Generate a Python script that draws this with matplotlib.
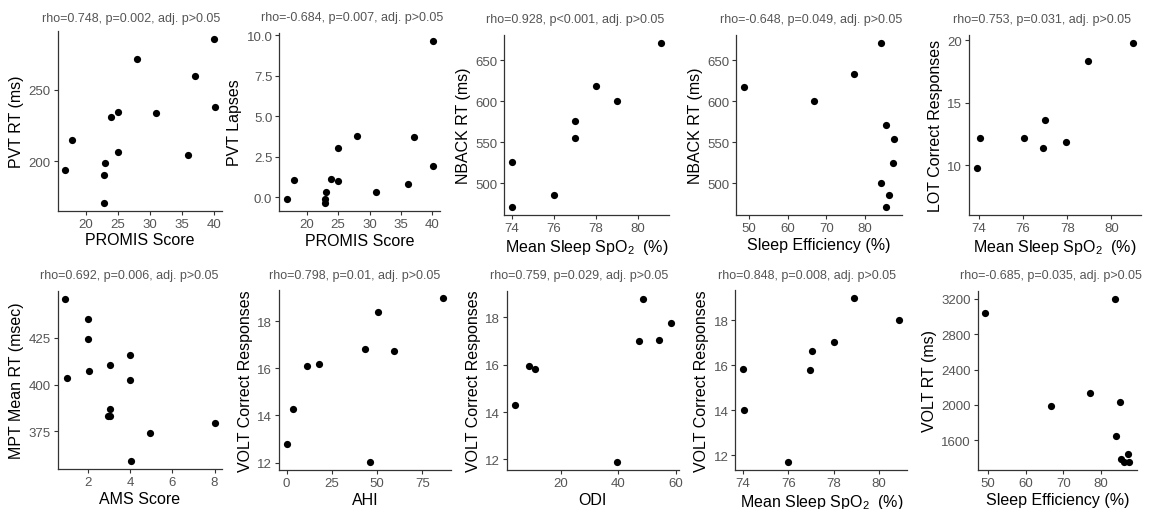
import matplotlib
matplotlib.use('Agg')
import matplotlib.pyplot as plt

plt.rcParams['font.family'] = ['Liberation Sans', 'DejaVu Sans']
plt.rcParams['mathtext.fontset'] = 'custom'
plt.rcParams['mathtext.rm'] = 'Liberation Sans'
plt.rcParams['mathtext.it'] = 'Liberation Sans:italic'

# PROMIS panels
promis_x = [16.8, 17.9, 23.0, 22.9, 22.9, 23.9, 25.0, 25.0, 28.0, 31.0, 36.0, 37.1, 40.0, 40.1]
pvt_rt = [193.5, 214.5, 198.5, 190.5, 171.0, 231.0, 234.5, 206.5, 271.5, 233.5, 204.5, 259.5, 285.5, 238.0]
promis_x2 = [16.8, 17.9, 23.05, 22.9, 22.9, 23.9, 24.95, 25.0, 28.05, 31.0, 36.05, 37.1, 40.1, 40.1]
pvt_lapses = [-0.14, 1.06, 0.33, -0.14, -0.37, 1.12, 1.0, 3.02, 3.8, 0.29, 0.8, 3.71, 9.67, 1.9]

# NBACK / LOT vs SpO2
spo2_nback = [74.0, 74.0, 76.0, 77.0, 77.0, 78.0, 79.0, 81.1]
nback_rt_a = [525.6, 471.1, 485.8, 576.4, 554.5, 617.9, 600.0, 671.1]
sleep_eff_nback = [48.7, 66.7, 77.2, 84.0, 85.4, 87.5, 87.1, 84.1, 86.2, 85.5]
nback_rt_b = [617.1, 600.4, 632.9, 671.1, 571.1, 553.7, 524.8, 500.0, 485.4, 471.5]
spo2_lot = [73.9, 74.05, 76.05, 76.9, 77.0, 77.95, 78.95, 81.0]
lot_correct = [9.79, 12.13, 12.13, 11.36, 13.64, 11.84, 18.3, 19.79]

# bottom row
ams = [0.9, 1.0, 2.0, 2.0, 2.05, 3.05, 3.05, 2.95, 3.05, 4.0, 4.0, 4.95, 8.0, 4.05]
mpt_rt = [445.5, 403.3, 435.0, 424.6, 407.5, 410.5, 387.2, 383.3, 383.3, 415.7, 402.6, 374.3, 379.2, 359.2]
ahi = [0.0, 3.6, 11.5, 17.9, 43.5, 50.5, 59.5, 46.0, 86.5]
volt_ahi = [12.78, 14.28, 16.09, 16.17, 16.82, 18.38, 16.75, 12.03, 19.0]
odi = [3.9, 9.0, 11.1, 39.5, 47.2, 48.5, 54.2, 58.3]
volt_odi = [14.31, 15.93, 15.80, 11.9, 16.98, 18.78, 17.06, 17.78]
spo2_volt = [74.0, 74.05, 76.0, 76.95, 77.05, 78.0, 78.9, 80.9]
volt_spo2 = [15.85, 14.0, 11.7, 15.78, 16.65, 17.05, 18.98, 18.0]
sleep_eff_volt = [49.2, 66.8, 77.1, 83.8, 85.2, 83.9, 87.1, 85.4, 86.2, 87.6]
volt_rt = [3043, 1985, 2130, 3200, 2027, 1646, 1444, 1386, 1355, 1355]

spo2_label = r'Mean Sleep SpO$_2$  (%)'

panels = [
    (promis_x, pvt_rt, 'PROMIS Score', 'PVT RT (ms)', 'rho=0.748, p=0.002, adj. p>0.05',
     [20, 25, 30, 35, 40], [200, 250], None),
    (promis_x2, pvt_lapses, 'PROMIS Score', 'PVT Lapses', 'rho=-0.684, p=0.007, adj. p>0.05',
     [20, 25, 30, 35, 40], [0, 2.5, 5, 7.5, 10], ['0.0', '2.5', '5.0', '7.5', '10.0']),
    (spo2_nback, nback_rt_a, spo2_label, 'NBACK RT (ms)', 'rho=0.928, p<0.001, adj. p>0.05',
     [74, 76, 78, 80], [500, 550, 600, 650], None),
    (sleep_eff_nback, nback_rt_b, 'Sleep Efficiency (%)', 'NBACK RT (ms)', 'rho=-0.648, p=0.049, adj. p>0.05',
     [50, 60, 70, 80], [500, 550, 600, 650], None),
    (spo2_lot, lot_correct, spo2_label, 'LOT Correct Responses', 'rho=0.753, p=0.031, adj. p>0.05',
     [74, 76, 78, 80], [10, 15, 20], None),
    (ams, mpt_rt, 'AMS Score', 'MPT Mean RT (msec)', 'rho=0.692, p=0.006, adj. p>0.05',
     [2, 4, 6, 8], [375, 400, 425], None),
    (ahi, volt_ahi, 'AHI', 'VOLT Correct Responses', 'rho=0.798, p=0.01, adj. p>0.05',
     [0, 25, 50, 75], [12, 14, 16, 18], None),
    (odi, volt_odi, 'ODI', 'VOLT Correct Responses', 'rho=0.759, p=0.029, adj. p>0.05',
     [20, 40, 60], [12, 14, 16, 18], None),
    (spo2_volt, volt_spo2, spo2_label, 'VOLT Correct Responses', 'rho=0.848, p=0.008, adj. p>0.05',
     [74, 76, 78, 80], [12, 14, 16, 18], None),
    (sleep_eff_volt, volt_rt, 'Sleep Efficiency (%)', 'VOLT RT (ms)', 'rho=-0.685, p=0.035, adj. p>0.05',
     [50, 60, 70, 80], [1600, 2000, 2400, 2800, 3200], None),
]

# panel boxes in pixels: left, right, top, bottom ; title centre x, y
W, H = 1155, 510
boxes = [
    (57.7, 222, 32, 211.7, 131, 19),
    (279.3, 440.3, 33.5, 212.3, 352, 18.5),
    (504.3, 668.7, 35.7, 216, 575, 20),
    (736.3, 901.7, 35.7, 216, 811, 20.5),
    (969, 1141.3, 35.7, 216, 1042, 20.5),
    (57.7, 222, 292.3, 470, 129, 275.7),
    (278.7, 451, 290.7, 471, 355, 275.7),
    (507, 678.7, 291.7, 471, 579.5, 275.7),
    (735.3, 907.3, 291, 471, 806.7, 275.7),
    (978, 1136.7, 291.7, 471, 1051, 275.7),
]

fig = plt.figure(figsize=(W / 100, H / 100), dpi=100)

for (x, y, xlab, ylab, title, xt, yt, ytl), (l, r, t, b, tx, ty) in zip(panels, boxes):
    ax = fig.add_axes([l / W, 1 - b / H, (r - l) / W, (b - t) / H])
    ax.scatter(x, y, s=27, color='black', linewidths=0, zorder=3)
    ax.set_xticks(xt)
    ax.set_yticks(yt)
    if ytl:
        ax.set_yticklabels(ytl)
    if ylab == 'LOT Correct Responses':
        ax.set_ylim(6.0, 20.43)
    ax.set_xlabel(xlab, fontsize=11.5, color='black', labelpad=2)
    ax.set_ylabel(ylab, fontsize=11.5, color='black', labelpad=3)
    for side in ['top', 'right']:
        ax.spines[side].set_visible(False)
    for side in ['left', 'bottom']:
        ax.spines[side].set_color('#333333')
        ax.spines[side].set_linewidth(0.9)
    ax.tick_params(axis='both', labelsize=9.5, labelcolor='#555555', color='#333333',
                   length=3, width=0.8, pad=2)
    fig.text(tx / W, 1 - ty / H, title, ha='center', va='center', fontsize=9, color='#555555')

plt.savefig('out.png', dpi=100)
